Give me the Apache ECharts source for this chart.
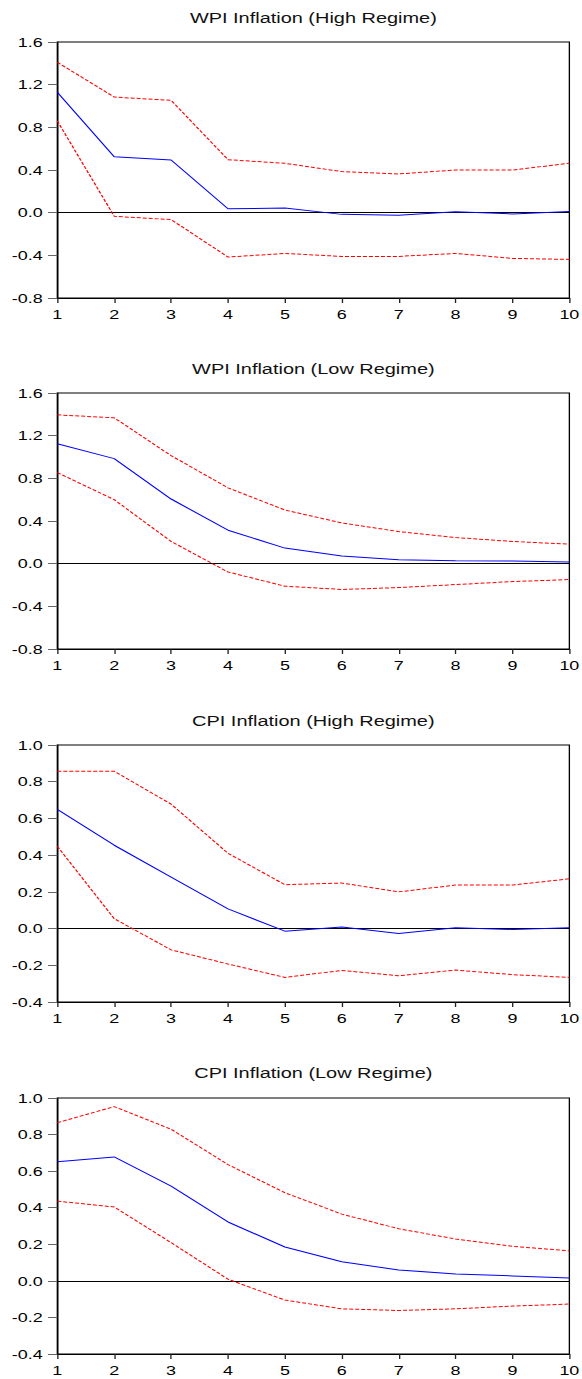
<!DOCTYPE html>
<html><head><meta charset="utf-8">
<script src="https://cdn.jsdelivr.net/npm/echarts@6/dist/echarts.min.js"></script>
<style>
html,body{margin:0;padding:0;background:#fff;overflow:hidden}
#wrap{width:582px;height:1379px;overflow:hidden;position:relative;background:#fff}
#chart{width:437.6px;height:1379px;transform:scaleX(1.33);transform-origin:0 0}
</style></head><body><div id="wrap"><div id="chart"></div></div>
<script>
const periods = [1, 2, 3, 4, 5, 6, 7, 8, 9, 10];

const panelTitles = ['WPI Inflation (High Regime)', 'WPI Inflation (Low Regime)', 'CPI Inflation (High Regime)', 'CPI Inflation (Low Regime)'];

const wpiHighMid   = [1.128, 0.525, 0.494, 0.037, 0.043, -0.016, -0.025, 0.009, -0.012, 0.012];
const wpiHighUpper = [1.41, 1.084, 1.053, 0.497, 0.463, 0.385, 0.363, 0.40, 0.40, 0.463];
const wpiHighLower = [0.86, -0.034, -0.065, -0.416, -0.382, -0.41, -0.41, -0.382, -0.429, -0.438];

const wpiLowMid   = [1.125, 0.985, 0.606, 0.314, 0.146, 0.071, 0.037, 0.028, 0.025, 0.016];
const wpiLowUpper = [1.395, 1.367, 1.013, 0.711, 0.503, 0.382, 0.301, 0.245, 0.208, 0.183];
const wpiLowLower = [0.854, 0.60, 0.208, -0.078, -0.211, -0.242, -0.224, -0.196, -0.168, -0.149];

const cpiHighMid   = [0.649, 0.454, 0.28, 0.107, -0.014, 0.009, -0.027, 0.005, -0.005, 0.004];
const cpiHighUpper = [0.857, 0.857, 0.678, 0.41, 0.239, 0.248, 0.20, 0.237, 0.237, 0.271];
const cpiHighLower = [0.448, 0.054, -0.116, -0.193, -0.266, -0.228, -0.257, -0.226, -0.251, -0.266];

const cpiLowMid   = [0.651, 0.678, 0.518, 0.322, 0.185, 0.104, 0.06, 0.038, 0.027, 0.016];
const cpiLowUpper = [0.865, 0.953, 0.829, 0.636, 0.482, 0.365, 0.285, 0.229, 0.189, 0.164];
const cpiLowLower = [0.436, 0.404, 0.209, 0.009, -0.105, -0.153, -0.162, -0.153, -0.138, -0.127];

const yMins = [-0.8, -0.8, -0.4, -0.4];
const yMaxs = [1.6, 1.6, 1.0, 1.0];
const yIntervals = [0.4, 0.4, 0.2, 0.2];

const panels = [
  [wpiHighMid, wpiHighUpper, wpiHighLower],
  [wpiLowMid, wpiLowUpper, wpiLowLower],
  [cpiHighMid, cpiHighUpper, cpiHighLower],
  [cpiLowMid, cpiLowUpper, cpiLowLower]
];

// layout (unscaled coordinates; the chart is stretched horizontally by CSS)
const gridTops = [42, 393, 745, 1098];
const gridHeights = [256, 256, 257, 256];
const titleTops = [10, 361, 713, 1065];
const gridLeft = 43.1, gridWidth = 385;
const font = "'Liberation Sans', Arial, Helvetica, sans-serif";

const chart = echarts.init(document.getElementById('chart'), null, {renderer: 'svg'});

const option = {
  animation: false,
  backgroundColor: '#fff',
  title: panelTitles.map((t, i) => ({
    text: t, left: gridLeft + gridWidth / 2, top: titleTops[i], textAlign: 'center', padding: 0,
    textStyle: {fontSize: 15, fontWeight: 'normal', color: '#111', fontFamily: font}
  })),
  grid: panels.map((p, i) => ({
    left: gridLeft, width: gridWidth, top: gridTops[i], height: gridHeights[i],
    show: true, borderColor: '#000', borderWidth: 1, backgroundColor: 'transparent',
    containLabel: false, outerBoundsMode: 'none'
  })),
  xAxis: panels.map((p, i) => ({
    type: 'value', gridIndex: i, min: 1, max: 10, interval: 1,
    axisLine: {show: true, onZero: false, lineStyle: {color: '#000', width: 1}},
    axisTick: {show: true, inside: false, length: 5, lineStyle: {color: '#222'}},
    splitLine: {show: false},
    axisLabel: {fontSize: 13.5, color: '#000', margin: 9, fontFamily: font, showMinLabel: true, showMaxLabel: true}
  })),
  yAxis: panels.map((p, i) => ({
    type: 'value', gridIndex: i, min: yMins[i], max: yMaxs[i], interval: yIntervals[i],
    axisLine: {show: true, onZero: false, lineStyle: {color: '#000', width: 1}},
    axisTick: {show: true, inside: false, length: 7, lineStyle: {color: '#666'}},
    splitLine: {show: false},
    axisLabel: {fontSize: 13.5, color: '#000', margin: 11, fontFamily: font,
      formatter: v => v.toFixed(1)}
  })),
  series: []
};

panels.forEach((p, i) => {
  const [mid, upper, lower] = p;
  const toData = arr => periods.map((x, k) => [x, arr[k]]);
  option.series.push({
    type: 'line', xAxisIndex: i, yAxisIndex: i, data: toData(upper), symbol: 'none', z: 2,
    lineStyle: {color: '#ff0000', width: 1, type: [3, 1.5]}, silent: true,
    markLine: {silent: true, z: 1, symbol: 'none', label: {show: false},
      lineStyle: {color: '#000', width: 1, type: 'solid'}, data: [{yAxis: 0}]}
  });
  option.series.push({
    type: 'line', xAxisIndex: i, yAxisIndex: i, data: toData(lower), symbol: 'none', z: 2,
    lineStyle: {color: '#ff0000', width: 1, type: [3, 1.5]}, silent: true
  });
  option.series.push({
    type: 'line', xAxisIndex: i, yAxisIndex: i, data: toData(mid), symbol: 'none', z: 4,
    lineStyle: {color: '#0000ff', width: 1, type: 'solid'}, silent: true
  });
});

chart.setOption(option);
</script>
</body></html>
